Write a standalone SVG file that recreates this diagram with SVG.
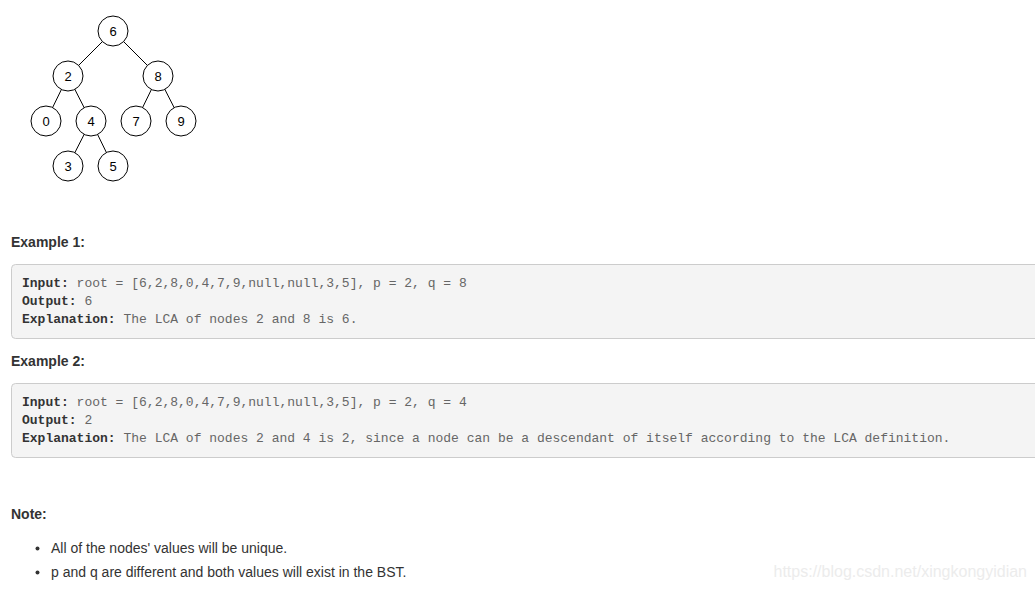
<svg xmlns="http://www.w3.org/2000/svg" width="1035" height="589" viewBox="0 0 1035 589">
<style>
.node circle{fill:#fff;stroke:#000;stroke-width:1}
.node text{font-family:"Liberation Sans",Arial,sans-serif;font-size:13px;fill:#000;text-anchor:middle}
.edge{stroke:#000;stroke-width:1;fill:none}
.h{font-family:"Liberation Sans",Arial,sans-serif;font-size:14px;font-weight:bold;fill:#333}
.p{font-family:"Liberation Sans",Arial,sans-serif;font-size:14px;fill:#333}
.box{fill:#f4f4f4;stroke:#ccc;stroke-width:1}
.code{font-family:"Liberation Mono","Courier New",monospace;font-size:13px;fill:#666}
.code .b{font-weight:bold;fill:#333}
.wm{font-family:"Liberation Sans",Arial,sans-serif;font-size:16px;fill:#ececec}
</style>
<rect width="1035" height="589" fill="#fff"/>
<g id="connectors">
<line class="edge" x1="113" y1="31" x2="68" y2="76"/>
<line class="edge" x1="113" y1="31" x2="158" y2="76"/>
<line class="edge" x1="68" y1="76" x2="46" y2="121"/>
<line class="edge" x1="68" y1="76" x2="91" y2="121"/>
<line class="edge" x1="158" y1="76" x2="136" y2="121"/>
<line class="edge" x1="158" y1="76" x2="181" y2="121"/>
<line class="edge" x1="91" y1="121" x2="68" y2="166"/>
<line class="edge" x1="91" y1="121" x2="113" y2="166"/>
</g>
<g id="n6" class="node"><circle cx="113" cy="31" r="15"/><text x="113" y="35.5">6</text></g>
<g id="n2" class="node"><circle cx="68" cy="76" r="15"/><text x="68" y="80.5">2</text></g>
<g id="n8" class="node"><circle cx="158" cy="76" r="15"/><text x="158" y="80.5">8</text></g>
<g id="n0" class="node"><circle cx="46" cy="121" r="15"/><text x="46" y="125.5">0</text></g>
<g id="n4" class="node"><circle cx="91" cy="121" r="15"/><text x="91" y="125.5">4</text></g>
<g id="n7" class="node"><circle cx="136" cy="121" r="15"/><text x="136" y="125.5">7</text></g>
<g id="n9" class="node"><circle cx="181" cy="121" r="15"/><text x="181" y="125.5">9</text></g>
<g id="n3" class="node"><circle cx="68" cy="166" r="15"/><text x="68" y="170.5">3</text></g>
<g id="n5" class="node"><circle cx="113" cy="166" r="15"/><text x="113" y="170.5">5</text></g>

<text class="h" x="11" y="247">Example 1:</text>
<rect class="box" x="11.5" y="264.5" width="1040" height="74" rx="4"/>
<text class="code" x="22" y="287"><tspan class="b">Input:</tspan> root = [6,2,8,0,4,7,9,null,null,3,5], p = 2, q = 8</text>
<text class="code" x="22" y="305"><tspan class="b">Output:</tspan> 6</text>
<text class="code" x="22" y="323"><tspan class="b">Explanation:</tspan> The LCA of nodes 2 and 8 is 6.</text>

<text class="h" x="11" y="366">Example 2:</text>
<rect class="box" x="11.5" y="383.5" width="1040" height="74" rx="4"/>
<text class="code" x="22" y="406"><tspan class="b">Input:</tspan> root = [6,2,8,0,4,7,9,null,null,3,5], p = 2, q = 4</text>
<text class="code" x="22" y="424"><tspan class="b">Output:</tspan> 2</text>
<text class="code" x="22" y="442"><tspan class="b">Explanation:</tspan> The LCA of nodes 2 and 4 is 2, since a node can be a descendant of itself according to the LCA definition.</text>

<text class="h" x="11" y="519">Note:</text>
<circle cx="37.5" cy="548.5" r="2" fill="#333"/>
<text class="p" x="51" y="553">All of the nodes' values will be unique.</text>
<circle cx="37.5" cy="572.5" r="2" fill="#333"/>
<text class="p" x="51" y="577">p and q are different and both values will exist in the BST.</text>

<text class="wm" x="1027" y="577" text-anchor="end">https://blog.csdn.net/xingkongyidian</text>
</svg>
